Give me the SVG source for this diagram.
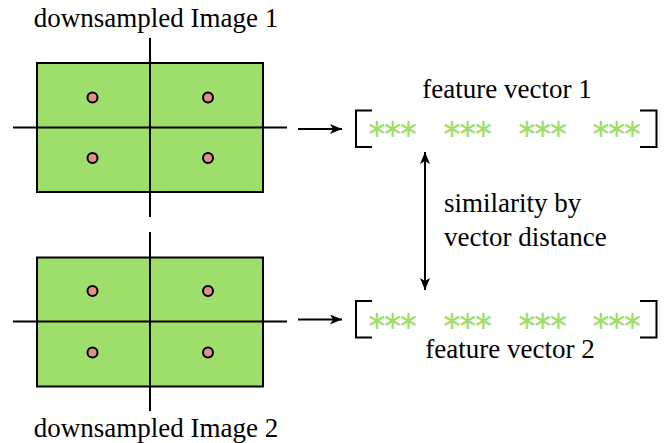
<svg xmlns="http://www.w3.org/2000/svg" width="668" height="443" viewBox="0 0 668 443">
<defs>
<marker id="ah" viewBox="0 0 12 10" refX="12" refY="5" markerWidth="12" markerHeight="10" markerUnits="userSpaceOnUse" orient="auto-start-reverse">
<path d="M0,0 L12,5 L0,10 L3,5 Z" fill="#000"/>
</marker>
</defs>
<style>
.img{fill:#9ede6a;stroke:#000;stroke-width:2}
.ax{stroke:#000;stroke-width:2;fill:none}
.dot{fill:#e28f86;stroke:#000;stroke-width:2}
.lbl{font-family:"Liberation Serif","Times New Roman",serif;font-size:27px;fill:#000}
.ast{font-family:"DejaVu Sans",sans-serif;font-size:26px;letter-spacing:-6px;fill:#9ede6a}
.br{stroke:#000;stroke-width:2;fill:none}
.con{stroke:#000;stroke-width:2;fill:none}
</style>
<rect width="668" height="443" fill="#fff"/>
<g id="image1">
<rect class="img" x="37" y="63" width="226" height="129"/>
<line class="ax" x1="150" y1="38" x2="150" y2="217"/>
<line class="ax" x1="13" y1="127.5" x2="287" y2="127.5"/>
<circle class="dot" cx="92.5" cy="97.5" r="5"/>
<circle class="dot" cx="208" cy="97.5" r="5"/>
<circle class="dot" cx="92.5" cy="158" r="5"/>
<circle class="dot" cx="208" cy="158" r="5"/>
<text class="lbl" x="156" y="27" text-anchor="middle">downsampled Image 1</text>
</g>
<g id="image2">
<rect class="img" x="37" y="257.5" width="226" height="129"/>
<line class="ax" x1="150" y1="232" x2="150" y2="411"/>
<line class="ax" x1="13" y1="321.5" x2="287" y2="321.5"/>
<circle class="dot" cx="92.5" cy="291" r="5"/>
<circle class="dot" cx="208" cy="291" r="5"/>
<circle class="dot" cx="92.5" cy="352.5" r="5"/>
<circle class="dot" cx="208" cy="352.5" r="5"/>
<text class="lbl" x="156" y="437" text-anchor="middle">downsampled Image 2</text>
</g>
<g id="vector1">
<path class="br" d="M372,110.5 H356 V147 H372"/>
<path class="br" d="M640,110.5 H656.5 V147 H640"/>
<text class="ast" x="366" y="137">∗∗∗</text>
<text class="ast" x="441" y="137">∗∗∗</text>
<text class="ast" x="516" y="137">∗∗∗</text>
<text class="ast" x="590" y="137">∗∗∗</text>
<text class="lbl" x="507" y="98" text-anchor="middle">feature vector 1</text>
</g>
<g id="vector2">
<path class="br" d="M372,301 H356 V337.5 H372"/>
<path class="br" d="M640,301 H656.5 V337.5 H640"/>
<text class="ast" x="366" y="328.5">∗∗∗</text>
<text class="ast" x="441" y="328.5">∗∗∗</text>
<text class="ast" x="516" y="328.5">∗∗∗</text>
<text class="ast" x="590" y="328.5">∗∗∗</text>
<text class="lbl" x="510" y="358" text-anchor="middle">feature vector 2</text>
</g>
<g id="similarity">
<text class="lbl" x="444" y="211.5">similarity by</text>
<text class="lbl" x="444" y="246">vector distance</text>
</g>
<g id="connectors">
<line class="con" x1="298" y1="129" x2="342" y2="129" marker-end="url(#ah)"/>
<line class="con" x1="298" y1="319.5" x2="342" y2="319.5" marker-end="url(#ah)"/>
<line class="con" x1="425" y1="152" x2="425" y2="290" marker-start="url(#ah)" marker-end="url(#ah)"/>
</g>
</svg>
